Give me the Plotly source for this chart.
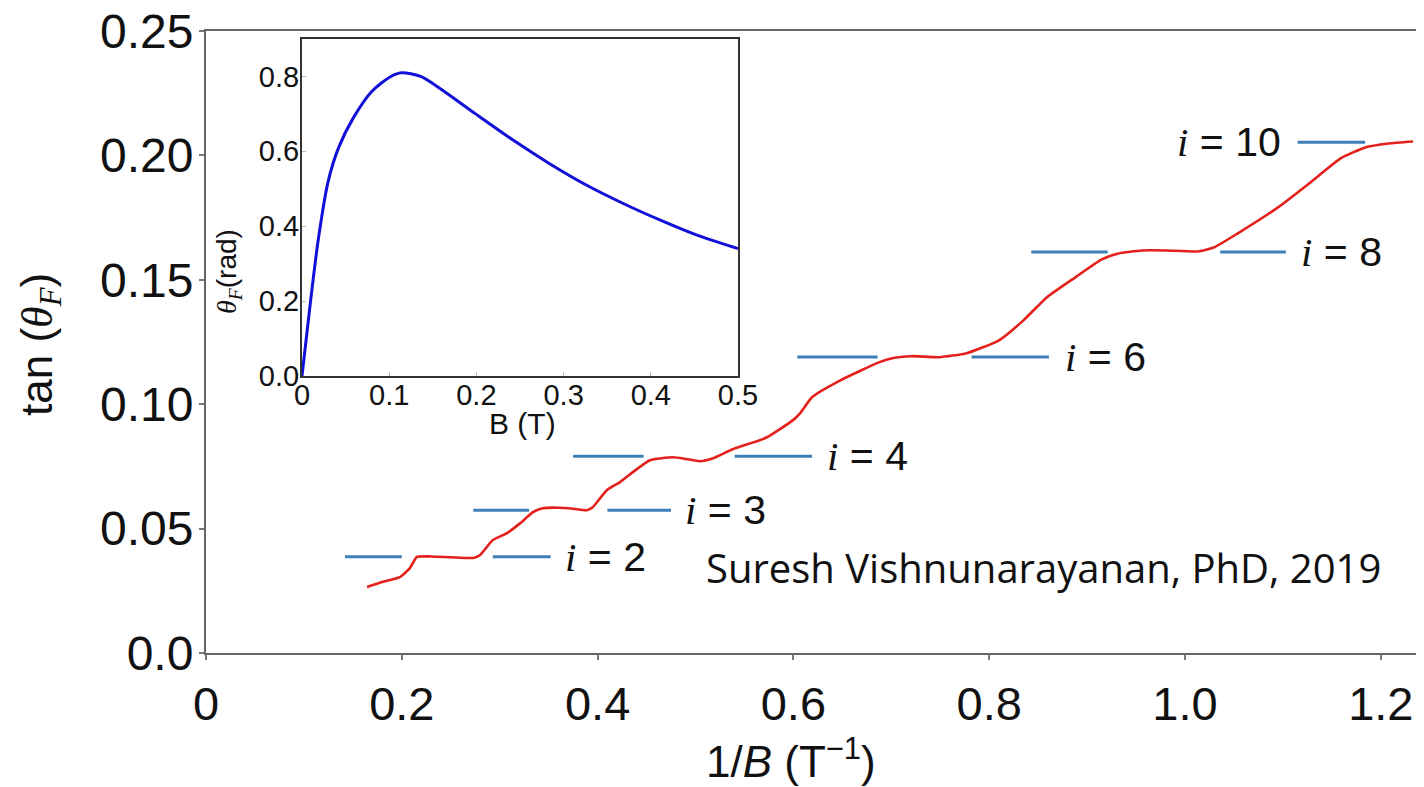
import plotly.graph_objects as go

W, H = 1424, 787
OFF = 8  # page body margin applied by the browser

# ---- data: main curve (tan theta_F vs 1/B)
inv_b = [0.1645, 0.180, 0.198, 0.208, 0.2155, 0.23, 0.25, 0.273, 0.280, 0.293, 0.3075, 0.321,
         0.334, 0.344, 0.36, 0.375, 0.389, 0.395, 0.4096, 0.423, 0.436, 0.4535, 0.477, 0.4905,
         0.5046, 0.518, 0.538, 0.573, 0.5996, 0.607, 0.619, 0.648, 0.688, 0.701, 0.720, 0.749,
         0.777, 0.810, 0.835, 0.859, 0.888, 0.915, 0.932, 0.956, 0.981, 1.013, 1.030, 1.054,
         1.095, 1.127, 1.159, 1.184, 1.208, 1.233]
tan_theta = [0.0265, 0.0285, 0.0305, 0.034, 0.0386, 0.0388, 0.0385, 0.0382, 0.0394, 0.0454,
             0.0482, 0.0522, 0.0566, 0.0582, 0.0584, 0.0580, 0.0574, 0.0586, 0.0655, 0.0687,
             0.0727, 0.0775, 0.0787, 0.0780, 0.0771, 0.0783, 0.0819, 0.0867, 0.0936, 0.0964,
             0.1028, 0.1096, 0.1169, 0.1185, 0.1193, 0.1189, 0.1205, 0.1257, 0.1337, 0.1430,
             0.1510, 0.1582, 0.1606, 0.1618, 0.1618, 0.1614, 0.1631, 0.1687, 0.1791, 0.1888,
             0.1988, 0.2032, 0.2048, 0.2056]

# ---- plateau reference levels
plateau_i = [2, 3, 4, 6, 8, 10]
plateau_level = [0.0387, 0.0574, 0.0791, 0.119, 0.1612, 0.2053]
seg_left_start = [0.142, 0.273, 0.375, 0.604, 0.843, 1.115]
seg_left_end = [0.200, 0.330, 0.447, 0.686, 0.921, 1.184]
seg_right_start = [0.293, 0.410, 0.540, 0.782, 1.036, None]
seg_right_end = [0.352, 0.475, 0.619, 0.861, 1.103, None]
label_x = [0.3647, 0.487, 0.632, 0.875, 1.116, 1.100]
label_side = ["left", "left", "left", "left", "left", "right"]

# ---- inset data: theta_F vs B
b_field = [0.0, 0.0093, 0.019, 0.030, 0.042, 0.059, 0.080, 0.102, 0.114, 0.136, 0.157, 0.199,
           0.242, 0.284, 0.326, 0.369, 0.411, 0.453, 0.5]
theta_f = [0.0, 0.19, 0.37, 0.52, 0.61, 0.69, 0.76, 0.80, 0.81, 0.80, 0.77, 0.70, 0.63, 0.567,
           0.51, 0.46, 0.416, 0.376, 0.34]

main_xticks = [0, 0.2, 0.4, 0.6, 0.8, 1.0, 1.2]
main_xlabels = ["0", "0.2", "0.4", "0.6", "0.8", "1.0", "1.2"]
main_yticks = [0, 0.05, 0.10, 0.15, 0.20, 0.25]
main_ylabels = ["0.0", "0.05", "0.10", "0.15", "0.20", "0.25"]
inset_xticks = [0, 0.1, 0.2, 0.3, 0.4, 0.5]
inset_xlabels = ["0", "0.1", "0.2", "0.3", "0.4", "0.5"]
inset_yticks = [0, 0.2, 0.4, 0.6, 0.8]
inset_ylabels = ["0.0", "0.2", "0.4", "0.6", "0.8"]

SANS = "Liberation Sans"
SERIF = "Liberation Serif"


def px(x):
    return (x - OFF) / W


def py(y):
    return 1 - (y - OFF) / H


fig = go.Figure()

# blue plateau segments
seg_x, seg_y = [], []
for lvl, a, b, c, d in zip(plateau_level, seg_left_start, seg_left_end, seg_right_start, seg_right_end):
    seg_x += [a, b, None]
    seg_y += [lvl, lvl, None]
    if c is not None:
        seg_x += [c, d, None]
        seg_y += [lvl, lvl, None]
fig.add_trace(go.Scatter(x=seg_x, y=seg_y, mode="lines", line=dict(color="#3d7fb6", width=3),
                         hoverinfo="skip", showlegend=False))

fig.add_trace(go.Scatter(x=inv_b, y=tan_theta, mode="lines",
                         line=dict(color="#e3201c", width=2.6, shape="spline", smoothing=0.5),
                         showlegend=False))

fig.add_trace(go.Scatter(x=b_field, y=theta_f, mode="lines", xaxis="x2", yaxis="y2",
                         line=dict(color="#1010d8", width=3, shape="spline", smoothing=0.8),
                         showlegend=False))

for i, lvl, lx, side in zip(plateau_i, plateau_level, label_x, label_side):
    fig.add_annotation(x=lx, y=lvl, xref="x", yref="y", xanchor=side, yanchor="middle",
                       text=f"<span style='font-family:{SERIF}'><i>i</i></span> = {i}",
                       showarrow=False, font=dict(family=SANS, size=41, color="#111"))

axis_common = dict(showgrid=False, zeroline=False, ticks="outside", ticklen=5, tickwidth=1.5,
                   tickcolor="#777", showline=True, linecolor="#666", linewidth=2,
                   automargin=False, ticklabeloverflow="allow")
inset_common = dict(showgrid=False, zeroline=False, ticks="inside", ticklen=4, tickcolor="#bbb",
                    showline=True, mirror=True, linecolor="#333", linewidth=2, automargin=False,
                    tickfont=dict(family=SANS, size=29, color="#111"))

fig.update_layout(
    template="none",
    width=W, height=H, margin=dict(l=0, r=0, t=0, b=0, pad=0),
    paper_bgcolor="white", plot_bgcolor="white",
    xaxis=dict(domain=[px(206), 1.0], range=[0, (W + OFF - 206) / 979], tickvals=main_xticks,
               ticktext=main_xlabels, mirror=True, anchor="y", ticklabelstandoff=4,
               tickfont=dict(family=SANS, size=47, color="#111"), **axis_common),
    yaxis=dict(domain=[py(653), py(31)], range=[0, 0.25], tickvals=main_yticks,
               ticktext=main_ylabels, anchor="x", ticklabelstandoff=-4,
               tickfont=dict(family=SANS, size=48, color="#111"), **axis_common),
    xaxis2=dict(domain=[px(302), px(738)], range=[0, 0.5], tickvals=inset_xticks,
                ticktext=inset_xlabels, anchor="y2", ticklabelstandoff=-8, **inset_common),
    yaxis2=dict(domain=[py(376), py(39)], range=[0, 0.9], tickvals=inset_yticks,
                ticktext=inset_ylabels, anchor="x2", ticklabelstandoff=-5, **inset_common),
)

# axis titles
fig.add_annotation(x=px(2 + OFF), y=py(345), xref="paper", yref="paper", textangle=-90,
                   text=f"tan (<span style='font-family:{SERIF}'><i>θ</i><sub><i>F</i></sub></span>)",
                   showarrow=False, font=dict(family=SANS, size=44, color="#111"))
fig.add_annotation(x=px(791), y=py(788), xref="paper", yref="paper",
                   text="1/<i>B</i> (T<sup>−1</sup>)",
                   showarrow=False, font=dict(family=SANS, size=44, color="#111"))
fig.add_annotation(x=px(209), y=py(227), xref="paper", yref="paper", textangle=-90,
                   text=f"<span style='font-family:{SERIF}'><i>θ</i><sub><i>F</i></sub></span>(rad)",
                   showarrow=False, font=dict(family=SANS, size=28, color="#111"))
fig.add_annotation(x=px(522), y=py(423), xref="paper", yref="paper", text="B (T)",
                   showarrow=False, font=dict(family=SANS, size=30, color="#111"))
fig.add_annotation(x=px(1383), y=py(597), xref="paper", yref="paper", xanchor="right",
                   text="Suresh Vishnunarayanan, PhD, 2019",
                   showarrow=False, font=dict(family="Open Sans", size=40, color="#111"))

fig.write_html("out.html")
